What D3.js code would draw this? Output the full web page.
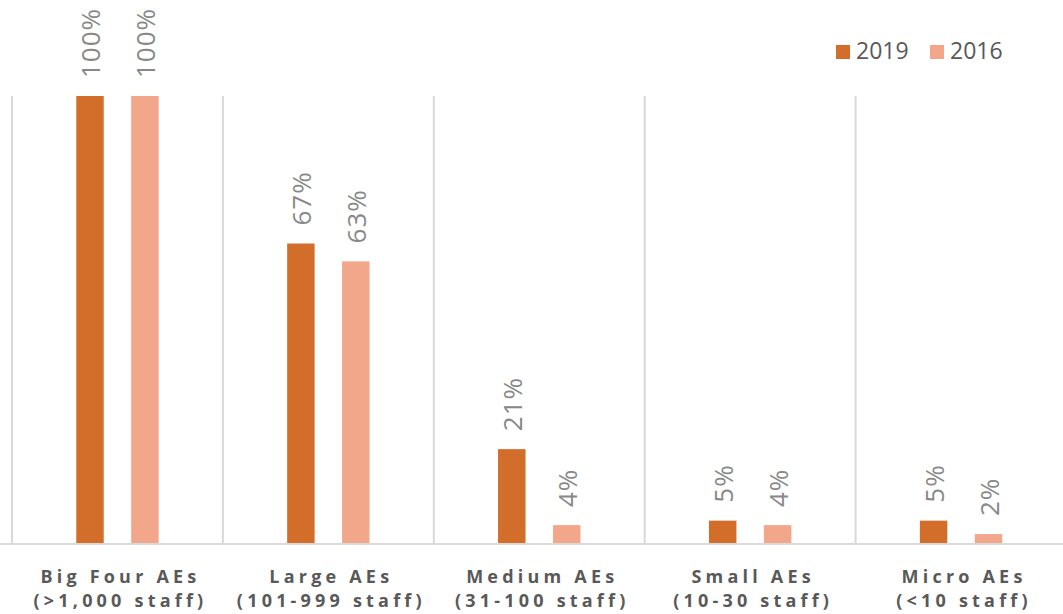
<!DOCTYPE html>
<html><head><meta charset="utf-8">
<script src="https://cdn.jsdelivr.net/npm/d3@7"></script>
<style>body{margin:0;background:#fff}svg{display:block}</style>
</head><body>
<script>
const categories = ["Big Four AEs|(>1,000 staff)","Large AEs|(101-999 staff)","Medium AEs|(31-100 staff)","Small AEs|(10-30 staff)","Micro AEs|(<10 staff)"];
const seriesNames = ["2019","2016"];
const values2019 = [100,67,21,5,5];
const values2016 = [100,63,4,4,2];
const colors = ["#d26e2a","#f2a78b"];

const W=1063,H=614;
const svg=d3.select("body").append("svg").attr("width",W).attr("height",H);
const x=d3.scaleBand().domain(categories).range([12,1066.5]).padding(0);
const y=d3.scaleLinear().domain([0,100]).range([543,96]);
const xi=d3.scaleBand().domain(seriesNames).range([0,x.bandwidth()]).paddingInner(0.5).paddingOuter(1.17);

// separators
const seps=categories.map(c=>x(c));
svg.selectAll("line.sep").data(seps).join("line").attr("class","sep")
 .attr("x1",d=>d).attr("x2",d=>d).attr("y1",y(100)).attr("y2",y(0))
 .attr("stroke","#d9d9d9").attr("stroke-width",2);
svg.append("line").attr("x1",0).attr("x2",W).attr("y1",y(0)+1).attr("y2",y(0)+1).attr("stroke","#d9d9d9").attr("stroke-width",2);

const data=[];
categories.forEach((c,i)=>{data.push({c,s:"2019",v:values2019[i],col:colors[0]});data.push({c,s:"2016",v:values2016[i],col:colors[1]});});
svg.selectAll("rect.bar").data(data).join("rect").attr("class","bar")
 .attr("x",d=>x(d.c)+xi(d.s)).attr("width",xi.bandwidth())
 .attr("y",d=>y(d.v)).attr("height",d=>y(0)-y(d.v)).attr("fill",d=>d.col);

svg.selectAll("text.val").data(data).join("text").attr("class","val")
 .attr("transform",d=>`translate(${x(d.c)+xi(d.s)+xi.bandwidth()/2+10},${y(d.v)-18}) rotate(-90)`)
 .attr("font-family","Open Sans, sans-serif").attr("font-size",26).attr("fill","#888888")
 .attr("letter-spacing","1px")
 .text(d=>d.v+"%");

// x labels
const xl=svg.selectAll("text.cat").data(categories).join("text").attr("class","cat")
 .attr("text-anchor","middle").attr("font-family","Open Sans, sans-serif").attr("font-weight","bold")
 .attr("font-size",18).attr("fill","#595959").attr("letter-spacing","4.2px");
xl.append("tspan").attr("x",d=>x(d)+x.bandwidth()/2+3).attr("y",583).text(d=>d.split("|")[0]);
xl.append("tspan").attr("x",d=>x(d)+x.bandwidth()/2+3).attr("y",607).text(d=>d.split("|")[1]);

// legend
const lg=svg.append("g");
const lx=[836,930];
seriesNames.forEach((s,i)=>{
 lg.append("rect").attr("x",lx[i]).attr("y",45).attr("width",14).attr("height",14).attr("fill",colors[i]);
 lg.append("text").attr("x",lx[i]+20).attr("y",59).attr("font-family","Open Sans, sans-serif").attr("font-size",23).attr("fill","#595959").text(s);
});
</script>
</body></html>
